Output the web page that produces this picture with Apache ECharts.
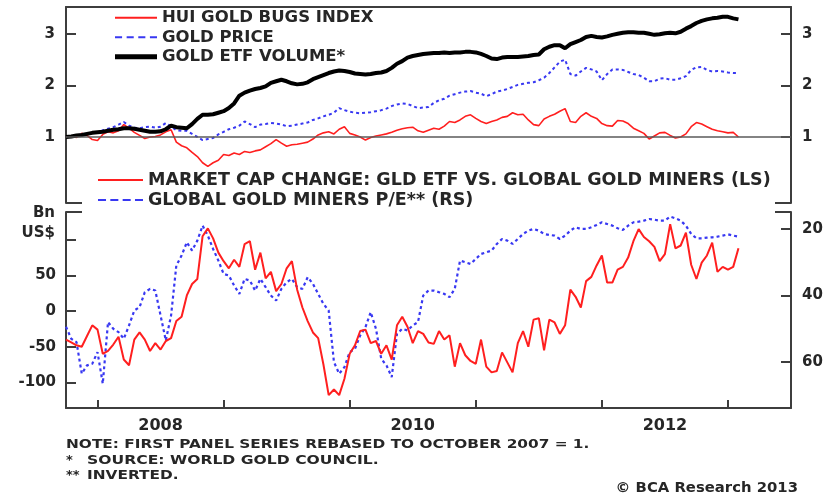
<!DOCTYPE html>
<html>
<head>
<meta charset="utf-8">
<script src="https://cdn.jsdelivr.net/npm/echarts@6/dist/echarts.min.js"></script>
<style>
  html, body { margin: 0; padding: 0; background: #fff; }
  #chart { width: 837px; height: 495px; }
</style>
</head>
<body>
<div id="chart"></div>
<script>
// Observation dates as decimal years: twice a month from October 2007 to early 2013
const dates = [];
for (let k = 0; k <= 128; k++) dates.push(2007.75 + k / 24);

// Top panel, rebased to October 2007 = 1
const huiIndex = [
  1.00,1.02,0.99,1.07,1.03,0.95,0.93,1.05,1.10,1.08,
  1.12,1.24,1.17,1.09,1.03,0.97,1.00,1.01,1.04,1.10,
  1.14,0.90,0.83,0.79,0.70,0.62,0.50,0.43,0.50,0.55,
  0.66,0.64,0.69,0.66,0.72,0.70,0.73,0.75,0.81,0.87,
  0.95,0.88,0.82,0.85,0.86,0.88,0.90,0.96,1.04,1.08,
  1.10,1.06,1.15,1.20,1.07,1.04,1.00,0.94,0.99,1.02,
  1.04,1.06,1.09,1.13,1.16,1.18,1.19,1.12,1.09,1.13,
  1.17,1.15,1.21,1.30,1.28,1.33,1.40,1.43,1.36,1.30,
  1.26,1.30,1.33,1.38,1.40,1.47,1.43,1.44,1.33,1.24,
  1.22,1.35,1.40,1.44,1.50,1.55,1.30,1.28,1.40,1.47,
  1.40,1.36,1.26,1.22,1.21,1.32,1.31,1.26,1.17,1.12,
  1.07,0.96,1.02,1.08,1.09,1.03,0.98,1.00,1.06,1.20,
  1.28,1.25,1.20,1.15,1.12,1.10,1.08,1.09,1.00
];
const goldPrice = [
  1.00,1.01,1.03,1.05,1.06,1.08,1.09,1.13,1.16,1.19,
  1.24,1.29,1.22,1.18,1.17,1.19,1.20,1.18,1.20,1.27,
  1.20,1.13,1.12,1.12,1.06,1.00,0.94,0.96,0.98,1.05,
  1.10,1.15,1.18,1.22,1.30,1.25,1.19,1.24,1.25,1.27,
  1.26,1.24,1.21,1.22,1.24,1.26,1.28,1.33,1.36,1.40,
  1.43,1.47,1.56,1.52,1.49,1.47,1.46,1.47,1.48,1.50,
  1.52,1.55,1.60,1.63,1.65,1.64,1.60,1.56,1.57,1.58,
  1.66,1.71,1.74,1.80,1.83,1.86,1.88,1.89,1.86,1.84,
  1.79,1.83,1.88,1.90,1.93,1.97,2.01,2.03,2.05,2.06,
  2.10,2.15,2.24,2.35,2.46,2.50,2.22,2.19,2.27,2.34,
  2.31,2.27,2.10,2.22,2.31,2.31,2.30,2.26,2.22,2.20,
  2.15,2.08,2.08,2.13,2.14,2.11,2.11,2.14,2.18,2.30,
  2.35,2.36,2.30,2.27,2.28,2.27,2.25,2.24,2.24
];
const etfVolume = [
  1.00,1.01,1.03,1.04,1.06,1.08,1.09,1.10,1.12,1.14,
  1.15,1.17,1.17,1.16,1.14,1.12,1.10,1.10,1.11,1.15,
  1.22,1.19,1.18,1.17,1.25,1.35,1.43,1.43,1.44,1.47,
  1.50,1.56,1.65,1.80,1.86,1.90,1.93,1.95,1.98,2.05,
  2.08,2.11,2.08,2.04,2.02,2.03,2.06,2.12,2.16,2.20,
  2.24,2.27,2.29,2.28,2.26,2.23,2.22,2.21,2.22,2.24,
  2.25,2.28,2.34,2.42,2.47,2.54,2.57,2.59,2.61,2.62,
  2.63,2.63,2.64,2.63,2.64,2.64,2.65,2.65,2.64,2.61,
  2.57,2.52,2.51,2.54,2.55,2.55,2.55,2.56,2.57,2.59,
  2.60,2.70,2.75,2.78,2.78,2.72,2.80,2.84,2.88,2.94,
  2.96,2.94,2.93,2.95,2.98,3.00,3.02,3.03,3.03,3.02,
  3.02,3.00,2.98,2.99,3.01,3.02,3.01,3.04,3.10,3.15,
  3.21,3.25,3.28,3.30,3.31,3.33,3.33,3.30,3.28
];

// Bottom panel: market cap change, Bn US$ (left scale)
const marketCapChange = [
  -40,-44,-48,-50,-35,-20,-26,-60,-56,-47,
  -36,-68,-76,-40,-30,-40,-56,-45,-54,-42,
  -38,-14,-8,22,38,45,105,116,102,82,
  70,60,72,62,94,98,58,82,46,55,
  28,38,60,70,30,5,-14,-30,-38,-75,
  -118,-110,-118,-95,-60,-48,-28,-26,-45,-42,
  -60,-48,-68,-20,-8,-22,-45,-28,-32,-44,
  -46,-28,-40,-34,-78,-45,-62,-70,-74,-40,
  -78,-86,-84,-58,-72,-86,-45,-28,-50,-12,
  -10,-55,-12,-16,-32,-20,30,20,5,42,
  48,64,78,40,40,58,62,75,98,115,
  104,98,90,70,80,122,88,92,110,65,
  45,68,78,96,55,62,58,62,88
];
// Bottom panel: global gold miners P/E (right scale, inverted)
const minersPE = [
  49.4,53.0,54.0,63.5,61.0,60.5,57.0,66.5,48.0,50.0,
  51.0,53.0,49.0,44.5,43.5,39.0,38.0,38.5,46.0,53.5,
  46.0,31.0,28.0,24.0,26.5,23.5,19.0,22.0,26.0,29.5,
  33.5,34.0,37.0,39.5,35.0,35.5,38.5,35.0,37.5,40.0,
  41.5,38.0,36.0,35.0,37.5,38.0,34.5,36.5,39.5,42.5,
  44.5,60.0,63.5,61.5,57.0,56.0,52.0,49.5,45.0,50.0,
  59.0,61.0,64.5,51.5,50.0,50.5,49.0,48.0,40.0,38.5,
  38.5,39.0,39.5,40.5,38.0,29.5,30.0,30.5,29.0,27.5,
  27.0,26.5,24.5,23.0,23.5,24.5,23.0,21.5,20.5,20.0,
  20.5,21.5,21.8,22.0,23.0,22.0,20.5,19.5,20.0,20.0,
  19.5,18.8,18.0,18.5,19.0,19.8,20.3,19.0,18.0,17.8,
  17.5,17.0,17.2,17.5,17.5,16.3,16.8,17.5,19.0,21.5,
  22.8,22.8,22.6,22.5,22.3,22.0,21.6,22.0,22.3
];

// Axis ticks and labels
const yearTicks = [2008, 2009, 2010, 2011, 2012, 2013];
const yearLabelPos = [2008.5, 2010.5, 2012.5];
const topTicks = [1, 2, 3];
const capTicks = [-100, -50, 0, 50, 100];
const capLabels = [-100, -50, 0, 50];
const peTicks = [20, 40, 60];

const names = {
  hui: 'HUI GOLD BUGS INDEX',
  gold: 'GOLD PRICE',
  etf: 'GOLD ETF VOLUME*',
  cap: 'MARKET CAP CHANGE: GLD ETF VS. GLOBAL GOLD MINERS (LS)',
  pe: 'GLOBAL GOLD MINERS P/E** (RS)'
};

const FONT = 'DejaVu Sans';
const TEXT = '#262626';
const AXIS = '#3d3d3d';
const RED = '#ff1f1f';
const BLUE = '#3838f2';

const topGrid = { left: 66, right: 46, top: 7, height: 196 };
const botGrid = { left: 66, right: 46, top: 212, height: 196 };
const CW = 837;

const pairs = arr => dates.map((d, i) => [d, arr[i]]);

// Legend keys drawn as plain strokes (solid bar or dashes)
const solidKey = (w, h) => 'path://M0,0h' + w + 'v' + h + 'h-' + w + 'z';
function dashKey(dash, gap, n, h) {
  let p = 'path://';
  for (let i = 0; i < n; i++) p += 'M' + (i * (dash + gap)) + ',0h' + dash + 'v' + h + 'h-' + dash + 'z';
  return p;
}

const axisLine = { show: true, onZero: false, lineStyle: { color: AXIS, width: 2 } };
const labelFont = { fontFamily: FONT, fontWeight: 'bold', color: TEXT };

function yAx(grid, pos, min, max, ticks, labels, extra) {
  return Object.assign({
    type: 'value', gridIndex: grid, position: pos, min: min, max: max,
    axisLine: axisLine,
    axisTick: { show: true, inside: true, length: 10, customValues: ticks, lineStyle: { color: AXIS, width: 2 } },
    axisLabel: Object.assign({ customValues: labels, margin: 10, fontSize: 15 }, labelFont),
    splitLine: { show: false }
  }, extra || {});
}

const option = {
  animation: false,
  backgroundColor: '#fff',
  grid: [topGrid, botGrid],
  xAxis: [
    {
      type: 'value', gridIndex: 0, position: 'top', min: 2007.75, max: 2013.5,
      axisLine: axisLine, axisTick: { show: false }, axisLabel: { show: false }, splitLine: { show: false }
    },
    {
      type: 'value', gridIndex: 1, position: 'bottom', min: 2007.75, max: 2013.5,
      axisLine: axisLine,
      axisTick: { show: true, inside: true, length: 8, customValues: yearTicks, lineStyle: { color: AXIS, width: 2 } },
      axisLabel: Object.assign({ customValues: yearLabelPos, margin: 10, fontSize: 16,
        formatter: v => String(Math.floor(v)) }, labelFont),
      splitLine: { show: false }
    }
  ],
  yAxis: [
    yAx(0, 'left', -0.28, 3.52, topTicks, topTicks, { axisLabel: Object.assign({ customValues: topTicks, margin: 11, fontSize: 15 }, labelFont) }),
    yAx(0, 'right', -0.28, 3.52, topTicks, topTicks, { axisLabel: Object.assign({ customValues: topTicks, margin: 11, fontSize: 15 }, labelFont) }),
    yAx(1, 'left', -136, 139, capTicks, capLabels),
    yAx(1, 'right', 14.9, 73.8, peTicks, peTicks, { inverse: true, axisLabel: Object.assign({ customValues: peTicks, margin: 11, fontSize: 15 }, labelFont) })
  ],
  legend: [
    {
      data: [
        { name: names.hui, icon: solidKey(42, 2) },
        { name: names.gold, icon: dashKey(7, 4.5, 4, 2) },
        { name: names.etf, icon: solidKey(42, 5) }
      ],
      orient: 'vertical', left: 115, top: 8, itemWidth: 42, itemHeight: 14, itemGap: 0,
      selectedMode: false, padding: 0, symbolKeepAspect: true,
      textStyle: { fontFamily: FONT, fontWeight: 'bold', fontSize: 16.5, color: TEXT, lineHeight: 19.5 }
    },
    {
      data: [
        { name: names.cap, icon: solidKey(45, 2.2) },
        { name: names.pe, icon: dashKey(8, 4.3, 4, 2.2) }
      ],
      orient: 'vertical', left: 98, top: 170, itemWidth: 45, itemHeight: 14, itemGap: 0,
      selectedMode: false, padding: 0, symbolKeepAspect: true,
      textStyle: { fontFamily: FONT, fontWeight: 'bold', fontSize: 17.5, color: TEXT, lineHeight: 20 }
    }
  ],
  series: [
    {
      name: names.hui, type: 'line', xAxisIndex: 0, yAxisIndex: 0, data: pairs(huiIndex),
      symbol: 'none', lineStyle: { color: RED, width: 1.6 }, itemStyle: { color: RED },
      markLine: {
        silent: true, symbol: 'none', label: { show: false },
        lineStyle: { color: '#5a5a5a', width: 1.6, type: 'solid' },
        data: [{ yAxis: 1 }]
      }
    },
    {
      name: names.gold, type: 'line', xAxisIndex: 0, yAxisIndex: 0, data: pairs(goldPrice),
      symbol: 'none', lineStyle: { color: BLUE, width: 2, type: [3, 3] }, itemStyle: { color: BLUE }
    },
    {
      name: names.etf, type: 'line', xAxisIndex: 0, yAxisIndex: 0, data: pairs(etfVolume),
      symbol: 'none', lineStyle: { color: '#000', width: 4 }, itemStyle: { color: '#000' }
    },
    {
      name: names.pe, type: 'line', xAxisIndex: 1, yAxisIndex: 3, data: pairs(minersPE),
      symbol: 'none', lineStyle: { color: BLUE, width: 2.2, type: [3, 3] }, itemStyle: { color: BLUE }
    },
    {
      name: names.cap, type: 'line', xAxisIndex: 1, yAxisIndex: 2, data: pairs(marketCapChange),
      symbol: 'none', lineStyle: { color: RED, width: 2 }, itemStyle: { color: RED }
    }
  ],
  graphic: (function () {
    const gl = topGrid.left, gr = CW - topGrid.right;
    const topBottom = topGrid.top + topGrid.height;
    const botTop = botGrid.top;
    const brk = 16;
    const ls = { stroke: AXIS, lineWidth: 2 };
    const txt = (x, y, s, size, align, sx) => ({
      type: 'text', x: x, y: y, scaleX: sx || 1,
      style: { text: s, fill: TEXT, font: 'bold ' + size + 'px "' + FONT + '"', align: align || 'left', verticalAlign: 'middle' }
    });
    return [
      // axis break marks between the two panels
      { type: 'line', shape: { x1: gl, y1: topBottom, x2: gl + brk, y2: topBottom }, style: ls },
      { type: 'line', shape: { x1: gr - brk, y1: topBottom, x2: gr, y2: topBottom }, style: ls },
      { type: 'line', shape: { x1: gl, y1: botTop, x2: gl + brk, y2: botTop }, style: ls },
      { type: 'line', shape: { x1: gr - brk, y1: botTop, x2: gr, y2: botTop }, style: ls },
      // unit label of the left scale
      txt(55, 213, 'Bn', 15, 'right'),
      txt(55, 233, 'US$', 15, 'right'),
      // footnotes
      txt(66, 445, 'NOTE: FIRST PANEL SERIES REBASED TO OCTOBER 2007 = 1.', 13, 'left', 1.18),
      txt(66, 461, '*', 13),
      txt(87, 461, 'SOURCE: WORLD GOLD COUNCIL.', 13, 'left', 1.2),
      txt(66, 476, '**', 13),
      txt(87, 476, 'INVERTED.', 13, 'left', 1.18),
      txt(798, 488, '\u00a9 BCA Research 2013', 14, 'right', 1.06)
    ];
  })()
};

const chart = echarts.init(document.getElementById('chart'), null, { renderer: 'canvas' });
chart.setOption(option);
</script>
</body>
</html>
